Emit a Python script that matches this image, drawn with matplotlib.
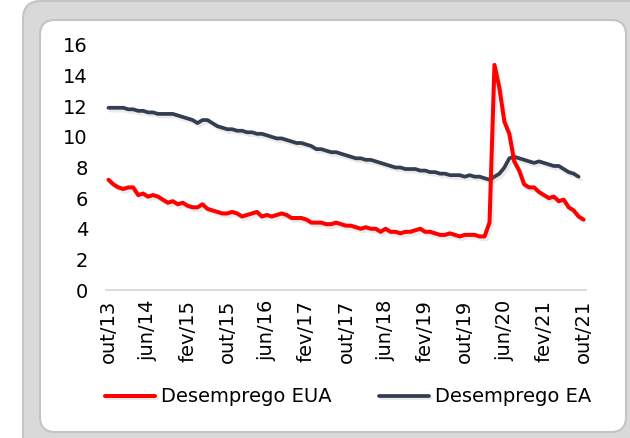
import matplotlib
matplotlib.use("Agg")
import matplotlib.pyplot as plt
import matplotlib.patches as ptch
import matplotlib.patheffects as pe
import numpy as np

# monthly, out/13 .. out/21
tick_labels = ['out/13', 'jun/14', 'fev/15', 'out/15', 'jun/16', 'fev/17', 'out/17',
               'jun/18', 'fev/19', 'out/19', 'jun/20', 'fev/21', 'out/21']

desemprego_eua = [7.2, 6.9, 6.7,
                  6.6, 6.7, 6.7, 6.2, 6.3, 6.1, 6.2, 6.1, 5.9, 5.7, 5.8, 5.6,
                  5.7, 5.5, 5.4, 5.4, 5.6, 5.3, 5.2, 5.1, 5.0, 5.0, 5.1, 5.0,
                  4.8, 4.9, 5.0, 5.1, 4.8, 4.9, 4.8, 4.9, 5.0, 4.9, 4.7, 4.7,
                  4.7, 4.6, 4.4, 4.4, 4.4, 4.3, 4.3, 4.4, 4.3, 4.2, 4.2, 4.1,
                  4.0, 4.1, 4.0, 4.0, 3.8, 4.0, 3.8, 3.8, 3.7, 3.8, 3.8, 3.9,
                  4.0, 3.8, 3.8, 3.7, 3.6, 3.6, 3.7, 3.6, 3.5, 3.6, 3.6, 3.6,
                  3.5, 3.5, 4.4, 14.7, 13.2, 11.0, 10.2, 8.4, 7.8, 6.9, 6.7, 6.7,
                  6.4, 6.2, 6.0, 6.1, 5.8, 5.9, 5.4, 5.2, 4.8, 4.6]

# euro area series ends one month earlier (set/21)
desemprego_ea = [11.9, 11.9, 11.9,
                 11.9, 11.8, 11.8, 11.7, 11.7, 11.6, 11.6, 11.5, 11.5, 11.5, 11.5, 11.4,
                 11.3, 11.2, 11.1, 10.9, 11.1, 11.1, 10.9, 10.7, 10.6, 10.5, 10.5, 10.4,
                 10.4, 10.3, 10.3, 10.2, 10.2, 10.1, 10.0, 9.9, 9.9, 9.8, 9.7, 9.6,
                 9.6, 9.5, 9.4, 9.2, 9.2, 9.1, 9.0, 9.0, 8.9, 8.8, 8.7, 8.6,
                 8.6, 8.5, 8.5, 8.4, 8.3, 8.2, 8.1, 8.0, 8.0, 7.9, 7.9, 7.9,
                 7.8, 7.8, 7.7, 7.7, 7.6, 7.6, 7.5, 7.5, 7.5, 7.4, 7.5, 7.4,
                 7.4, 7.3, 7.2, 7.4, 7.6, 8.0, 8.6, 8.7, 8.6, 8.5, 8.4, 8.3,
                 8.4, 8.3, 8.2, 8.1, 8.1, 7.9, 7.7, 7.6, 7.4]

W, H = 630, 438
fig = plt.figure(figsize=(W / 100, H / 100), dpi=100, facecolor='white')

# rounded frame drawn in pixel coords
bg = fig.add_axes([0, 0, 1, 1])
bg.set_xlim(0, W)
bg.set_ylim(H, 0)
bg.axis('off')
outer = ptch.FancyBboxPatch((23, 1), 660, 480,
                            boxstyle='round,pad=0,rounding_size=18',
                            facecolor='#d9d9d9', edgecolor='#c4c4c4', linewidth=1.5)
inner = ptch.FancyBboxPatch((40, 20), 586, 412,
                            boxstyle='round,pad=0,rounding_size=15',
                            facecolor='white', edgecolor='#c4c4c4', linewidth=1.5)
bg.add_patch(outer)
bg.add_patch(inner)

left, right, top, bottom = 106, 586, 45, 290
ax = fig.add_axes([left / W, (H - bottom) / H, (right - left) / W, (bottom - top) / H])
ax.set_facecolor('none')

x_eua = np.arange(len(desemprego_eua))
x_ea = np.arange(len(desemprego_ea))

shadow = [pe.SimpleLineShadow(offset=(1.5, -2), shadow_color='#777777', alpha=0.15), pe.Normal()]
ax.plot(x_ea, desemprego_ea, color='#333f50', linewidth=2.7,
        label='Desemprego EA', path_effects=shadow, solid_capstyle='round')
ax.plot(x_eua, desemprego_eua, color='#ff0000', linewidth=2.9,
        label='Desemprego EUA', path_effects=shadow, solid_capstyle='round')

ax.set_xlim(-0.5, len(desemprego_eua) - 0.5)
ax.set_ylim(0, 16)
ax.set_yticks(np.arange(0, 17, 2))
ax.set_xticks(np.arange(0, len(desemprego_eua), 8))
ax.set_xticklabels(tick_labels, rotation=90)

for s in ['top', 'right', 'left']:
    ax.spines[s].set_visible(False)
ax.spines['bottom'].set_color('#d9d9d9')
ax.spines['bottom'].set_linewidth(1.3)
ax.tick_params(axis='both', length=0, labelsize=14, colors='black')
ax.tick_params(axis='y', pad=13)
ax.tick_params(axis='x', pad=7)

handles, labels = ax.get_legend_handles_labels()
fig.legend(handles[::-1], labels[::-1], loc='center', ncol=2,
           bbox_to_anchor=(348 / W, (H - 397) / H), frameon=False,
           fontsize=14, handlelength=2.6, handletextpad=0.3, columnspacing=2.4)

fig.savefig('out.png', dpi=100)
